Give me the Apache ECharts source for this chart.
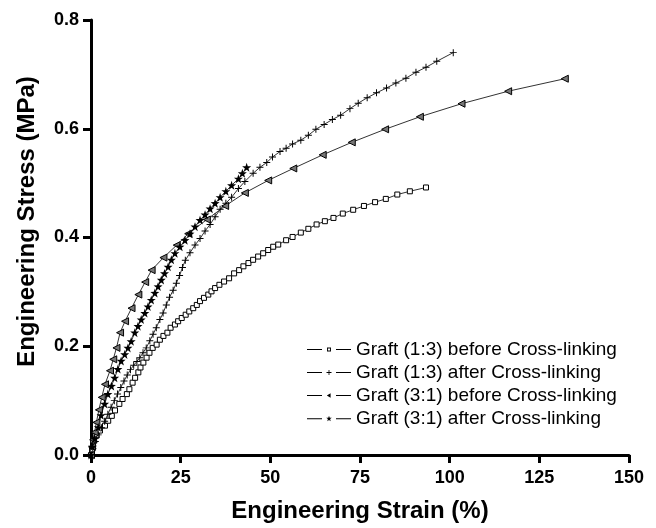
<!DOCTYPE html>
<html>
<head>
<meta charset="utf-8">
<script src="https://cdn.jsdelivr.net/npm/echarts@6/dist/echarts.min.js"></script>
<style>html,body{margin:0;padding:0;background:#fff;}#c{width:656px;height:528px;}</style>
</head>
<body>
<div id="c"></div>
<script>
// Graft (1:3) before Cross-linking  [strain %, stress MPa]
const g13Before = [
 [0,0],[0.3,0.010],[0.64,0.027],[1.6,0.036],[2.5,0.045],[3.9,0.054],[4.8,0.063],[5.8,0.072],[6.7,0.082],
 [7.9,0.094],[8.8,0.103],[10.0,0.112],[10.7,0.121],[11.6,0.133],[12.3,0.142],[13.2,0.152],[13.8,0.161],
 [14.6,0.170],[15.5,0.179],[16.3,0.188],[17.2,0.197],[18.3,0.203],[19.2,0.212],[20.2,0.219],[21.3,0.225],
 [22.2,0.234],[23.4,0.240],[24.3,0.246],[25.3,0.252],[26.4,0.258],[27.4,0.264],[28.5,0.270],[29.5,0.276],
 [30.4,0.283],[31.5,0.289],[32.7,0.295],[33.6,0.301],[34.6,0.307],[35.8,0.313],[37.1,0.319],[38.5,0.325],
 [39.9,0.334],[41.3,0.340],[42.5,0.347],[43.9,0.353],[45.2,0.359],[46.6,0.365],[48.0,0.371],[49.4,0.377],
 [50.8,0.383],[52.2,0.387],[54.4,0.395],[56.2,0.401],[58.5,0.409],[60.6,0.416],[62.9,0.424],[65.2,0.430],
 [67.6,0.436],[70.2,0.444],[73.1,0.451],[76.1,0.458],[79.2,0.465],[82.2,0.471],[85.4,0.479],[88.9,0.485],
 [93.4,0.492]
];
// Graft (1:3) after Cross-linking
const g13After = [
 [0,0],[0.5,0.012],[1.2,0.025],[2.0,0.037],[2.9,0.050],[3.8,0.062],[4.7,0.075],[5.6,0.088],[6.5,0.100],
 [7.4,0.112],[8.3,0.124],[9.2,0.136],[10.1,0.147],[11.0,0.157],[11.9,0.165],[12.8,0.172],[13.6,0.179],
 [14.5,0.188],[15.4,0.197],[16.4,0.210],[17.3,0.222],[18.2,0.234],[19.2,0.249],[20.1,0.261],[21.0,0.276],
 [21.9,0.290],[22.9,0.303],[23.8,0.316],[24.7,0.330],[25.5,0.345],[26.3,0.358],[27.6,0.372],[29.0,0.386],
 [30.4,0.398],[31.8,0.412],[33.2,0.424],[34.6,0.438],[36.0,0.452],[37.6,0.463],[39.2,0.474],[41.1,0.490],
 [42.9,0.503],[45.2,0.518],[47.1,0.529],[49.0,0.538],[50.6,0.548],[52.7,0.558],[54.4,0.564],[56.2,0.572],
 [58.5,0.579],[60.6,0.588],[62.7,0.599],[65.0,0.608],[67.3,0.617],[69.6,0.625],[72.2,0.637],[74.5,0.647],
 [77.0,0.657],[79.6,0.666],[82.4,0.675],[85.0,0.684],[87.8,0.693],[90.6,0.704],[93.4,0.713],[96.4,0.724],
 [101.0,0.740]
];
// Graft (3:1) before Cross-linking
const g31Before = [
 [0,0],[0.3,0.015],[0.6,0.028],[1.0,0.042],[1.5,0.060],[2.2,0.083],[3.0,0.106],[3.9,0.130],[5.3,0.155],
 [6.2,0.176],[7.1,0.197],[8.1,0.225],[9.5,0.246],[11.3,0.270],[13.2,0.295],[15.1,0.318],[16.9,0.340],
 [20.2,0.363],[23.9,0.386],[27.1,0.407],[32.3,0.433],[37.4,0.458],[42.9,0.482],[49.4,0.505],[56.4,0.527],
 [64.6,0.552],[72.7,0.575],[82.0,0.599],[91.7,0.622],[103.3,0.646],[116.3,0.669],[132.1,0.692]
];
// Graft (3:1) after Cross-linking
const g31After = [
 [0,0],[0.4,0.015],[1.0,0.030],[2.0,0.051],[2.8,0.073],[3.8,0.094],[4.7,0.112],[5.7,0.127],[6.6,0.142],
 [7.5,0.158],[8.4,0.173],[9.4,0.185],[10.3,0.197],[11.2,0.209],[12.2,0.225],[13.1,0.237],[14.0,0.249],
 [15.0,0.261],[15.9,0.273],[16.8,0.285],[17.8,0.298],[18.7,0.310],[19.6,0.322],[20.5,0.334],[21.5,0.346],
 [22.4,0.359],[23.4,0.371],[24.8,0.383],[26.2,0.395],[27.6,0.407],[29.0,0.420],[30.4,0.432],[31.8,0.442],
 [33.2,0.453],[34.6,0.463],[36.0,0.474],[37.6,0.485],[39.2,0.496],[41.1,0.508],[42.2,0.518],[43.4,0.529]
];
const seriesNames = [
 'Graft (1:3) before Cross-linking',
 'Graft (1:3) after Cross-linking',
 'Graft (3:1) before Cross-linking',
 'Graft (3:1) after Cross-linking'
];
const yTicks = [0, 0.2, 0.4, 0.6, 0.8];
const xTicks = [0, 25, 50, 75, 100, 125, 150];

const FONT = '"Liberation Sans", Arial, sans-serif';
const PLUS = 'path://M-0.7,-5H0.7V-0.7H5V0.7H0.7V5H-0.7V0.7H-5V-0.7H-0.7Z';
const STAR = 'path://M0,-10L2.35,-3.24L9.51,-3.09L3.8,1.24L5.88,8.09L0,4L-5.88,8.09L-3.8,1.24L-9.51,-3.09L-2.35,-3.24Z';

// legend icons: dash, small marker, dash (44 x ~6 box)
const DASHES = 'M0,2.5H15V3.5H0Z M29,2.5H44V3.5H29Z';
const LEG_ICONS = [
  'path://' + DASHES + ' M20,1H24V5H20Z M20.9,1.9V4.1H23.1V1.9Z',
  'path://' + DASHES + ' M21.6,0.5H22.4V2.6H24.5V3.4H22.4V5.5H21.6V3.4H19.5V2.6H21.6Z',
  'path://' + DASHES + ' M19.8,3L23.6,0.7V5.3Z',
  'path://' + DASHES + ' M22,0.2L22.7,2.1L24.8,2.1L23.1,3.4L23.7,5.5L22,4.3L20.3,5.5L20.9,3.4L19.2,2.1L21.3,2.1Z'
];

function mk(name, data, symbol, size, fill, rotate) {
  return {
    name: name, type: 'line', data: data,
    symbol: symbol, symbolSize: size, symbolRotate: rotate || 0,
    showAllSymbol: true,
    lineStyle: { color: '#333', width: 1 },
    itemStyle: { color: fill, borderColor: '#000', borderWidth: symbol === 'rect' || symbol === 'triangle' ? 1 : 0 },
    emphasis: { disabled: true },
    animation: false
  };
}

const chart = echarts.init(document.getElementById('c'), null, { renderer: 'canvas' });
chart.setOption({
  backgroundColor: '#fff',
  animation: false,
  textStyle: { fontFamily: FONT },
  grid: { left: 91, right: 27, top: 20, bottom: 70, containLabel: false },
  legend: {
    orient: 'vertical', left: 302, top: 335,
    itemWidth: 44, itemHeight: 12, itemGap: 4, symbolKeepAspect: true,
    textStyle: { fontFamily: FONT, fontSize: 19, color: '#000' },
    data: seriesNames.map((n, i) => ({ name: n, icon: LEG_ICONS[i], itemStyle: { color: '#000', borderWidth: 0 } }))
  },
  xAxis: {
    type: 'value', min: 0, max: 150, interval: 25,
    name: 'Engineering Strain (%)', nameLocation: 'middle', nameGap: 44,
    nameTextStyle: { fontFamily: FONT, fontSize: 24, fontWeight: 'bold', color: '#000' },
    axisLine: { show: true, lineStyle: { color: '#000', width: 3 } },
    axisTick: { show: true, length: 8, lineStyle: { color: '#000', width: 3 } },
    axisLabel: { fontFamily: FONT, fontSize: 18, fontWeight: 'bold', color: '#000', margin: 14,
      formatter: v => xTicks.includes(v) ? String(v) : '' },
    splitLine: { show: false }
  },
  yAxis: {
    type: 'value', min: 0, max: 0.8, interval: 0.2,
    name: 'Engineering Stress (MPa)', nameLocation: 'middle', nameGap: 52,
    nameTextStyle: { fontFamily: FONT, fontSize: 24, fontWeight: 'bold', color: '#000', padding: [0, 0, 0, 32] },
    axisLine: { show: true, lineStyle: { color: '#000', width: 3 } },
    axisTick: { show: true, length: 8, lineStyle: { color: '#000', width: 3 } },
    axisLabel: { fontFamily: FONT, fontSize: 18, fontWeight: 'bold', color: '#000', margin: 12,
      formatter: v => yTicks.some(t => Math.abs(t - v) < 1e-9) ? v.toFixed(1) : '' },
    splitLine: { show: false }
  },
  series: [
    mk(seriesNames[0], g13Before, 'rect', 5, '#fff'),
    mk(seriesNames[1], g13After, PLUS, 7, '#000'),
    mk(seriesNames[2], g31Before, 'triangle', 7, '#777', 90),
    mk(seriesNames[3], g31After, STAR, 9, '#000')
  ]
});
</script>
</body>
</html>
